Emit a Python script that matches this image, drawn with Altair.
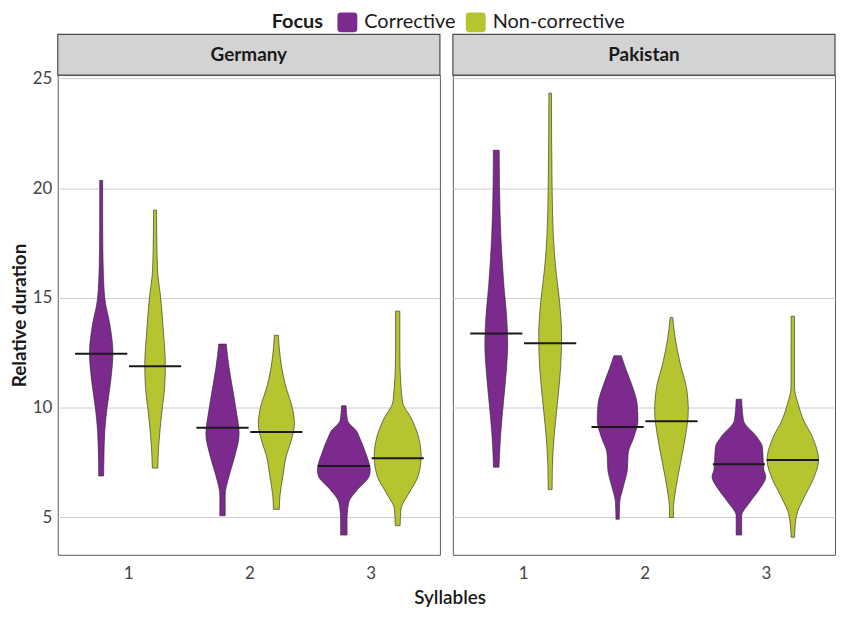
import altair as alt
import pandas as pd

# ---- data ----
COUNTRIES = ["Germany", "Pakistan"]
FOCUS = ["Corrective", "Non-corrective"]
COLORS = ["#7d2a8f", "#b6c52f"]
SYLLABLES = [1, 2, 3]
Y_TICKS = [5, 10, 15, 20, 25]

# violin outlines: (relative duration, half-width in reference pixels, 124 px = 1 x unit)
GER_1_COR = [(20.36, 1.5), (19.5, 1.5), (17.9, 1.6), (16.5, 2.0), (14.98, 3.7), (13.76, 9.0),
             (12.5, 12.0), (11.2, 9.7), (10.0, 6.0), (8.96, 3.7), (7.47, 2.7), (6.89, 2.5)]
GER_1_NON = [(19.0, 1.5), (17.96, 1.7), (16.3, 2.5), (15.0, 5.8), (13.5, 8.5), (11.97, 10.5),
             (11.07, 10.0), (9.7, 6.7), (8.24, 3.7), (7.25, 2.8)]
GER_2_COR = [(12.9, 3.8), (11.83, 6.7), (10.77, 10.7), (9.87, 14.0), (8.82, 17.0), (7.78, 12.5),
             (6.89, 6.7), (6.0, 2.7), (5.08, 2.8)]
GER_2_NON = [(13.3, 2.0), (12.28, 4.0), (11.07, 9.0), (9.87, 17.0), (9.27, 18.5), (8.52, 15.3),
             (7.78, 10.0), (6.89, 6.7), (6.0, 3.7), (5.37, 3.0)]
GER_3_COR = [(10.09, 2.3), (9.42, 3.8), (9.27, 5.8), (8.97, 12.5), (8.67, 15.8), (7.92, 22.5),
             (7.17, 27.0), (6.89, 26.0), (6.27, 14.0), (5.67, 5.0), (4.92, 3.3), (4.2, 3.3)]
GER_3_NON = [(14.4, 2.2), (12.42, 2.2), (10.32, 4.7), (9.42, 15.0), (8.67, 21.3), (7.78, 24.0),
             (6.87, 20.8), (6.12, 11.7), (5.37, 3.3), (4.63, 2.5)]
PAK_1_COR = [(21.73, 3.0), (20.06, 3.3), (17.8, 4.7), (15.56, 7.8), (14.07, 10.7), (12.87, 11.7),
             (11.82, 10.5), (10.32, 7.5), (8.82, 4.5), (7.29, 2.8)]
PAK_1_NON = [(24.33, 1.3), (20.06, 2.0), (17.8, 3.3), (16.3, 5.8), (14.8, 9.7), (13.3, 11.7),
             (11.82, 10.7), (10.32, 7.7), (8.82, 4.3), (7.32, 2.3), (6.27, 2.0)]
PAK_2_COR = [(12.37, 3.8), (11.67, 9.2), (10.92, 15.5), (10.17, 20.0), (9.42, 20.8), (8.67, 16.7),
             (7.92, 10.8), (7.17, 10.0), (6.42, 6.0), (5.7, 2.2), (4.92, 1.7)]
PAK_2_NON = [(14.11, 1.3), (13.17, 3.8), (11.97, 9.2), (10.92, 15.3), (9.87, 17.2), (8.67, 14.2),
             (7.47, 9.2), (6.27, 4.3), (5.37, 2.0), (5.0, 2.0)]
PAK_3_COR = [(10.39, 2.8), (9.42, 4.7), (8.67, 18.3), (8.22, 24.0), (7.17, 25.5), (6.87, 27.5),
             (6.27, 20.8), (5.67, 10.8), (5.07, 2.8), (4.2, 2.8)]
PAK_3_NON = [(14.17, 1.7), (10.92, 1.8), (10.17, 5.5), (9.42, 11.2), (8.67, 20.0), (7.63, 26.3),
             (6.73, 20.8), (5.97, 12.2), (5.07, 3.7), (4.1, 1.7)]

# medians per syllable count
GER_MED_COR = [12.46, 9.09, 7.35]
GER_MED_NON = [11.89, 8.89, 7.70]
PAK_MED_COR = [13.38, 9.12, 7.43]
PAK_MED_NON = [12.94, 9.38, 7.62]

VIOLINS = {
    ("Germany", 1, "Corrective"): GER_1_COR, ("Germany", 1, "Non-corrective"): GER_1_NON,
    ("Germany", 2, "Corrective"): GER_2_COR, ("Germany", 2, "Non-corrective"): GER_2_NON,
    ("Germany", 3, "Corrective"): GER_3_COR, ("Germany", 3, "Non-corrective"): GER_3_NON,
    ("Pakistan", 1, "Corrective"): PAK_1_COR, ("Pakistan", 1, "Non-corrective"): PAK_1_NON,
    ("Pakistan", 2, "Corrective"): PAK_2_COR, ("Pakistan", 2, "Non-corrective"): PAK_2_NON,
    ("Pakistan", 3, "Corrective"): PAK_3_COR, ("Pakistan", 3, "Non-corrective"): PAK_3_NON,
}
MEDIANS = {
    ("Germany", "Corrective"): GER_MED_COR, ("Germany", "Non-corrective"): GER_MED_NON,
    ("Pakistan", "Corrective"): PAK_MED_COR, ("Pakistan", "Non-corrective"): PAK_MED_NON,
}

rows = []
for (country, syl, focus), pts in VIOLINS.items():
    for v, w in pts:
        rows.append(dict(kind="violin", country=country, syl=syl, focus=focus, v=v, w=w))
for (country, focus), meds in MEDIANS.items():
    for syl, m in zip(SYLLABLES, meds):
        rows.append(dict(kind="median", country=country, syl=syl, focus=focus, v=m, w=0.0))
df = pd.DataFrame(rows)

PW = 384
PH = 482
FONT = "Lato"

base = alt.Chart().transform_calculate(
    pos="datum.syl + (datum.focus == 'Corrective' ? -0.222 : 0.222)"
)

xscale = alt.Scale(domain=[0.42, 3.57], nice=False, zero=False)
yscale = alt.Scale(domain=[3.3, 25.15], nice=False, zero=False)

xaxis = alt.Axis(values=SYLLABLES, format="d", grid=False, ticks=False, domain=False,
                 labelPadding=10, title=None)
yaxis = alt.Axis(values=Y_TICKS, ticks=False, domain=False, grid=True,
                 gridColor="#cdcdcd", gridWidth=1, labelPadding=4, title="Relative duration",
                 titlePadding=3)

violins = base.transform_filter("datum.kind == 'violin'").transform_calculate(
    lo="datum.pos - datum.w / 124", hi="datum.pos + datum.w / 124"
).mark_area(orient="horizontal", interpolate="monotone", stroke="#222222",
            strokeWidth=0.6, opacity=1).encode(
    y=alt.Y("v:Q", scale=yscale, axis=yaxis),
    x=alt.X("lo:Q", scale=xscale, axis=xaxis),
    x2="hi:Q",
    color=alt.Color("focus:N", scale=alt.Scale(domain=FOCUS, range=COLORS),
                    legend=alt.Legend(
                        title="Focus", orient="none", direction="horizontal",
                        legendX=212, legendY=-66, padding=3, titleOrient="left",
                        titleFontSize=20, titleFontWeight="bold", titleColor="#1a1a1a",
                        labelFontSize=20, labelColor="#1a1a1a", labelFont=FONT, titleFont=FONT,
                        symbolType="M -0.65 -1 L 0.65 -1 Q 1 -1 1 -0.65 L 1 0.65 Q 1 1 0.65 1 L -0.65 1 Q -1 1 -1 0.65 L -1 -0.65 Q -1 -1 -0.65 -1 Z",
                        symbolSize=400, symbolStrokeWidth=0, symbolOpacity=1,
                        columnPadding=10, labelOffset=7, titlePadding=14)),
    detail="syl:N",
)

medians = base.transform_filter("datum.kind == 'median'").transform_calculate(
    lo="datum.pos - 0.215", hi="datum.pos + 0.215"
).mark_rule(color="#1a1a1a", strokeWidth=2).encode(
    x=alt.X("lo:Q", scale=xscale),
    x2="hi:Q",
    y=alt.Y("v:Q", scale=yscale),
)

one_per_panel = "datum.kind == 'median' && datum.syl == 1 && datum.focus == 'Corrective'"
strip = base.transform_filter(one_per_panel).mark_rect(
    fill="#d3d3d3", stroke="#4d4d4d", strokeWidth=1.2
).encode(x=alt.value(0), x2=alt.value(PW), y=alt.value(-41), y2=alt.value(0))
strip_text = base.transform_filter(one_per_panel).mark_text(
    font=FONT, fontSize=19, fontWeight="bold", color="#1a1a1a", baseline="middle"
).encode(x=alt.value(PW / 2), y=alt.value(-20), text="country:N")

panel = alt.layer(violins, medians, strip, strip_text).properties(width=PW, height=PH)

chart = panel.facet(
    column=alt.Column("country:N", sort=COUNTRIES, header=alt.Header(labels=False, title=None)),
    data=df,
    spacing=9,
).properties(
    title=alt.TitleParams("Syllables", orient="bottom", anchor="middle", fontSize=19,
                          fontWeight=600, font=FONT, color="#1a1a1a", offset=7, dx=27),
    padding={"left": 2, "top": 0, "right": 0, "bottom": 0},
).configure(font=FONT).configure_view(
    stroke="#5a5a5a", strokeWidth=1
).configure_axis(
    labelFont=FONT, labelFontSize=17, labelColor="#444444",
    titleFont=FONT, titleFontSize=19, titleFontWeight="bold", titleColor="#1a1a1a",
)

chart.save("out.html", embed_options={"renderer": "svg", "actions": False})
